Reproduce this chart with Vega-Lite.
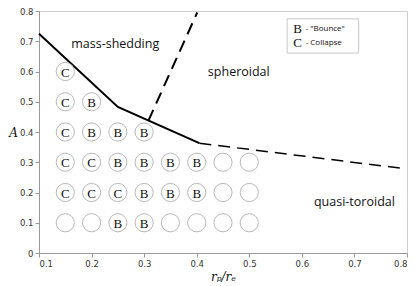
{
  "$schema": "https://vega.github.io/schema/vega-lite/v6.json",
  "width": 368,
  "height": 242,
  "autosize": {"type": "none"},
  "padding": {"left": 39, "top": 11, "right": 8, "bottom": 33},
  "background": "white",
  "config": {
    "view": {"stroke": "#d0d0d0", "strokeWidth": 1},
    "axis": {
      "grid": false,
      "domainColor": "#999999",
      "tickColor": "#999999",
      "tickSize": 4,
      "labelOverlap": false,
      "labelFont": "DejaVu Sans",
      "labelFontSize": 8.5,
      "labelColor": "#333333",
      "titleFont": "DejaVu Serif",
      "titleFontStyle": "italic",
      "titleFontWeight": "normal",
      "titleFontSize": 12,
      "titleColor": "#111111"
    }
  },
  "datasets": {
    "solid": [
      {"x": 0.1, "y": 0.725},
      {"x": 0.25, "y": 0.483},
      {"x": 0.405, "y": 0.363}
    ],
    "dash1": [
      {"x": 0.405, "y": 0.363},
      {"x": 0.79, "y": 0.28}
    ],
    "dash2": [
      {"x": 0.308, "y": 0.437},
      {"x": 0.401, "y": 0.795}
    ],
    "cells": [
      {"x": 0.15, "y": 0.6, "t": "C"},
      {"x": 0.15, "y": 0.5, "t": "C"},
      {"x": 0.2, "y": 0.5, "t": "B"},
      {"x": 0.15, "y": 0.4, "t": "C"},
      {"x": 0.2, "y": 0.4, "t": "B"},
      {"x": 0.25, "y": 0.4, "t": "B"},
      {"x": 0.3, "y": 0.4, "t": "B"},
      {"x": 0.15, "y": 0.3, "t": "C"},
      {"x": 0.2, "y": 0.3, "t": "C"},
      {"x": 0.25, "y": 0.3, "t": "B"},
      {"x": 0.3, "y": 0.3, "t": "B"},
      {"x": 0.35, "y": 0.3, "t": "B"},
      {"x": 0.4, "y": 0.3, "t": "B"},
      {"x": 0.45, "y": 0.3, "t": ""},
      {"x": 0.5, "y": 0.3, "t": ""},
      {"x": 0.15, "y": 0.2, "t": "C"},
      {"x": 0.2, "y": 0.2, "t": "C"},
      {"x": 0.25, "y": 0.2, "t": "C"},
      {"x": 0.3, "y": 0.2, "t": "B"},
      {"x": 0.35, "y": 0.2, "t": "B"},
      {"x": 0.4, "y": 0.2, "t": "B"},
      {"x": 0.45, "y": 0.2, "t": ""},
      {"x": 0.5, "y": 0.2, "t": ""},
      {"x": 0.15, "y": 0.1, "t": ""},
      {"x": 0.2, "y": 0.1, "t": ""},
      {"x": 0.25, "y": 0.1, "t": "B"},
      {"x": 0.3, "y": 0.1, "t": "B"},
      {"x": 0.35, "y": 0.1, "t": ""},
      {"x": 0.4, "y": 0.1, "t": ""},
      {"x": 0.45, "y": 0.1, "t": ""},
      {"x": 0.5, "y": 0.1, "t": ""}
    ],
    "regions": [
      {"x": 0.245, "y": 0.692, "label": "mass-shedding"},
      {"x": 0.48, "y": 0.598, "label": "spheroidal"},
      {"x": 0.7, "y": 0.169, "label": "quasi-toroidal"}
    ],
    "legendbox": [
      {"x": 0.572, "x2": 0.708, "y": 0.774, "y2": 0.661}
    ],
    "legendkeys": [
      {"x": 0.592, "y": 0.742, "k": "B", "d": "- \"Bounce\""},
      {"x": 0.592, "y": 0.695, "k": "C", "d": "- Collapse"}
    ]
  },
  "encoding": {
    "x": {"field": "x", "type": "quantitative", "scale": {"domain": [0.1, 0.8], "nice": false}, "axis": {"values": [0.1, 0.2, 0.3, 0.4, 0.5, 0.6, 0.7, 0.8], "format": "~g", "title": "rₚ/rₑ", "titlePadding": 4, "labelOverlap": false}},
    "y": {"field": "y", "type": "quantitative", "scale": {"domain": [0, 0.8], "nice": false}, "axis": {"values": [0, 0.1, 0.2, 0.3, 0.4, 0.5, 0.6, 0.7, 0.8], "format": "~g", "labelOverlap": false, "title": "A", "titleAngle": 0, "titleX": -26, "titleY": 121, "titleAlign": "center", "titleBaseline": "middle"}}
  },
  "layer": [
    {
      "data": {"name": "solid"},
      "mark": {"type": "line", "color": "black", "strokeWidth": 2}
    },
    {
      "data": {"name": "dash1"},
      "mark": {"type": "line", "color": "black", "strokeWidth": 1.5, "strokeDash": [12, 7]}
    },
    {
      "data": {"name": "dash2"},
      "mark": {"type": "line", "color": "black", "strokeWidth": 2, "strokeDash": [12, 7]}
    },
    {
      "data": {"name": "cells"},
      "mark": {"type": "point", "shape": "circle", "size": 330, "filled": false, "stroke": "#b8b8b8", "strokeWidth": 1, "fill": "white", "fillOpacity": 1}
    },
    {
      "data": {"name": "cells"},
      "mark": {"type": "text", "font": "Liberation Serif", "fontSize": 13, "color": "#111111", "baseline": "middle", "align": "center", "dy": 1},
      "encoding": {
        "text": {"field": "t"}
      }
    },
    {
      "data": {"name": "regions"},
      "mark": {"type": "text", "font": "Open Sans", "fontSize": 12.5, "color": "#111111", "baseline": "middle", "align": "center"},
      "encoding": {
        "text": {"field": "label"}
      }
    },
    {
      "data": {"name": "legendbox"},
      "mark": {"type": "rect", "fill": "white", "stroke": "#c8c8c8", "strokeWidth": 1},
      "encoding": {
        "x2": {"field": "x2"},
        "y2": {"field": "y2"}
      }
    },
    {
      "data": {"name": "legendkeys"},
      "mark": {"type": "text", "font": "Liberation Serif", "fontSize": 13, "color": "#111111", "baseline": "middle", "align": "center"},
      "encoding": {
        "text": {"field": "k"}
      }
    },
    {
      "data": {"name": "legendkeys"},
      "mark": {"type": "text", "font": "Open Sans", "fontSize": 8, "color": "#111111", "baseline": "middle", "align": "left", "dx": 8},
      "encoding": {
        "text": {"field": "d"}
      }
    }
  ]
}
